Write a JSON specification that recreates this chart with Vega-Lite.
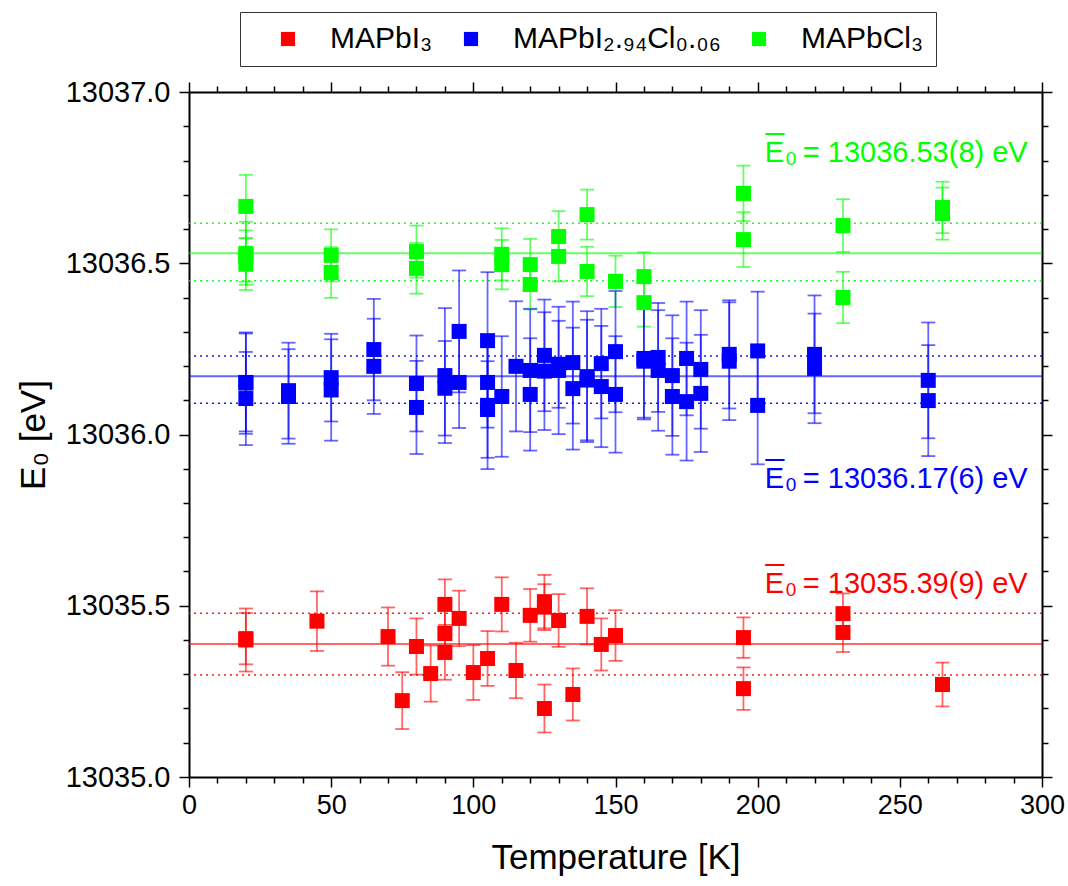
{
  "$schema": "https://vega.github.io/schema/vega-lite/v6.json",
  "width": 853,
  "height": 685,
  "autosize": {"type": "none"},
  "padding": {"left": 189, "top": 92, "right": 26, "bottom": 109},
  "background": "white",
  "config": {
    "font": "Liberation Sans",
    "view": {"stroke": null},
    "axis": {"grid": false, "domainColor": "black", "domainWidth": 2, "tickColor": "black", "tickWidth": 1.5, "labelColor": "black", "titleColor": "black", "labelFont": "Liberation Sans", "titleFont": "Liberation Sans", "titleFontWeight": "normal"}
  },
  "datasets": {
    "pts": [
      {"T": 20, "E": 13036.666, "err": 0.092, "s": "Cl"},
      {"T": 20, "E": 13036.529, "err": 0.092, "s": "Cl"},
      {"T": 20, "E": 13036.497, "err": 0.075, "s": "Cl"},
      {"T": 20, "E": 13036.521, "err": 0.075, "s": "Cl"},
      {"T": 50, "E": 13036.523, "err": 0.076, "s": "Cl"},
      {"T": 50, "E": 13036.473, "err": 0.074, "s": "Cl"},
      {"T": 80, "E": 13036.534, "err": 0.076, "s": "Cl"},
      {"T": 80, "E": 13036.485, "err": 0.074, "s": "Cl"},
      {"T": 110, "E": 13036.526, "err": 0.076, "s": "Cl"},
      {"T": 110, "E": 13036.496, "err": 0.072, "s": "Cl"},
      {"T": 120, "E": 13036.496, "err": 0.075, "s": "Cl"},
      {"T": 120, "E": 13036.438, "err": 0.073, "s": "Cl"},
      {"T": 130, "E": 13036.578, "err": 0.074, "s": "Cl"},
      {"T": 130, "E": 13036.520, "err": 0.073, "s": "Cl"},
      {"T": 140, "E": 13036.642, "err": 0.073, "s": "Cl"},
      {"T": 140, "E": 13036.476, "err": 0.072, "s": "Cl"},
      {"T": 150, "E": 13036.447, "err": 0.075, "s": "Cl"},
      {"T": 160, "E": 13036.461, "err": 0.071, "s": "Cl"},
      {"T": 160, "E": 13036.385, "err": 0.070, "s": "Cl"},
      {"T": 195, "E": 13036.704, "err": 0.081, "s": "Cl"},
      {"T": 195, "E": 13036.569, "err": 0.080, "s": "Cl"},
      {"T": 230, "E": 13036.610, "err": 0.077, "s": "Cl"},
      {"T": 230, "E": 13036.400, "err": 0.075, "s": "Cl"},
      {"T": 265, "E": 13036.663, "err": 0.075, "s": "Cl"},
      {"T": 265, "E": 13036.645, "err": 0.076, "s": "Cl"},

      {"T": 20, "E": 13036.152, "err": 0.143, "s": "Mix"},
      {"T": 20, "E": 13036.105, "err": 0.136, "s": "Mix"},
      {"T": 20, "E": 13036.150, "err": 0.148, "s": "Mix"},
      {"T": 35, "E": 13036.128, "err": 0.140, "s": "Mix"},
      {"T": 35, "E": 13036.111, "err": 0.138, "s": "Mix"},
      {"T": 50, "E": 13036.166, "err": 0.128, "s": "Mix"},
      {"T": 50, "E": 13036.130, "err": 0.148, "s": "Mix"},
      {"T": 65, "E": 13036.248, "err": 0.148, "s": "Mix"},
      {"T": 65, "E": 13036.199, "err": 0.139, "s": "Mix"},
      {"T": 80, "E": 13036.149, "err": 0.140, "s": "Mix"},
      {"T": 80, "E": 13036.079, "err": 0.136, "s": "Mix"},
      {"T": 90, "E": 13036.172, "err": 0.197, "s": "Mix"},
      {"T": 90, "E": 13036.135, "err": 0.138, "s": "Mix"},
      {"T": 95, "E": 13036.301, "err": 0.178, "s": "Mix"},
      {"T": 95, "E": 13036.152, "err": 0.133, "s": "Mix"},
      {"T": 105, "E": 13036.274, "err": 0.200, "s": "Mix"},
      {"T": 105, "E": 13036.152, "err": 0.132, "s": "Mix"},
      {"T": 105, "E": 13036.085, "err": 0.186, "s": "Mix"},
      {"T": 105, "E": 13036.073, "err": 0.141, "s": "Mix"},
      {"T": 110, "E": 13036.111, "err": 0.176, "s": "Mix"},
      {"T": 115, "E": 13036.199, "err": 0.190, "s": "Mix"},
      {"T": 120, "E": 13036.187, "err": 0.180, "s": "Mix"},
      {"T": 120, "E": 13036.117, "err": 0.164, "s": "Mix"},
      {"T": 125, "E": 13036.231, "err": 0.163, "s": "Mix"},
      {"T": 125, "E": 13036.185, "err": 0.172, "s": "Mix"},
      {"T": 130, "E": 13036.205, "err": 0.127, "s": "Mix"},
      {"T": 130, "E": 13036.187, "err": 0.186, "s": "Mix"},
      {"T": 135, "E": 13036.210, "err": 0.178, "s": "Mix"},
      {"T": 135, "E": 13036.134, "err": 0.178, "s": "Mix"},
      {"T": 140, "E": 13036.169, "err": 0.191, "s": "Mix"},
      {"T": 140, "E": 13036.159, "err": 0.176, "s": "Mix"},
      {"T": 145, "E": 13036.207, "err": 0.160, "s": "Mix"},
      {"T": 145, "E": 13036.140, "err": 0.177, "s": "Mix"},
      {"T": 150, "E": 13036.242, "err": 0.177, "s": "Mix"},
      {"T": 150, "E": 13036.117, "err": 0.170, "s": "Mix"},
      {"T": 160, "E": 13036.222, "err": 0.173, "s": "Mix"},
      {"T": 160, "E": 13036.214, "err": 0.170, "s": "Mix"},
      {"T": 165, "E": 13036.225, "err": 0.159, "s": "Mix"},
      {"T": 165, "E": 13036.187, "err": 0.176, "s": "Mix"},
      {"T": 170, "E": 13036.172, "err": 0.176, "s": "Mix"},
      {"T": 170, "E": 13036.111, "err": 0.170, "s": "Mix"},
      {"T": 175, "E": 13036.222, "err": 0.166, "s": "Mix"},
      {"T": 175, "E": 13036.096, "err": 0.172, "s": "Mix"},
      {"T": 180, "E": 13036.190, "err": 0.173, "s": "Mix"},
      {"T": 180, "E": 13036.120, "err": 0.171, "s": "Mix"},
      {"T": 190, "E": 13036.234, "err": 0.158, "s": "Mix"},
      {"T": 190, "E": 13036.214, "err": 0.172, "s": "Mix"},
      {"T": 200, "E": 13036.244, "err": 0.173, "s": "Mix"},
      {"T": 200, "E": 13036.085, "err": 0.172, "s": "Mix"},
      {"T": 220, "E": 13036.234, "err": 0.172, "s": "Mix"},
      {"T": 220, "E": 13036.193, "err": 0.160, "s": "Mix"},
      {"T": 260, "E": 13036.158, "err": 0.169, "s": "Mix"},
      {"T": 260, "E": 13036.099, "err": 0.162, "s": "Mix"},

      {"T": 20, "E": 13035.400, "err": 0.092, "s": "I"},
      {"T": 20, "E": 13035.404, "err": 0.075, "s": "I"},
      {"T": 45, "E": 13035.455, "err": 0.087, "s": "I"},
      {"T": 70, "E": 13035.410, "err": 0.085, "s": "I"},
      {"T": 75, "E": 13035.223, "err": 0.083, "s": "I"},
      {"T": 80, "E": 13035.381, "err": 0.082, "s": "I"},
      {"T": 85, "E": 13035.302, "err": 0.082, "s": "I"},
      {"T": 90, "E": 13035.504, "err": 0.073, "s": "I"},
      {"T": 90, "E": 13035.419, "err": 0.075, "s": "I"},
      {"T": 90, "E": 13035.364, "err": 0.080, "s": "I"},
      {"T": 95, "E": 13035.463, "err": 0.081, "s": "I"},
      {"T": 100, "E": 13035.305, "err": 0.080, "s": "I"},
      {"T": 105, "E": 13035.346, "err": 0.080, "s": "I"},
      {"T": 110, "E": 13035.504, "err": 0.079, "s": "I"},
      {"T": 115, "E": 13035.311, "err": 0.081, "s": "I"},
      {"T": 120, "E": 13035.472, "err": 0.077, "s": "I"},
      {"T": 125, "E": 13035.512, "err": 0.078, "s": "I"},
      {"T": 125, "E": 13035.496, "err": 0.067, "s": "I"},
      {"T": 125, "E": 13035.200, "err": 0.070, "s": "I"},
      {"T": 130, "E": 13035.457, "err": 0.077, "s": "I"},
      {"T": 135, "E": 13035.241, "err": 0.076, "s": "I"},
      {"T": 140, "E": 13035.469, "err": 0.082, "s": "I"},
      {"T": 145, "E": 13035.387, "err": 0.076, "s": "I"},
      {"T": 150, "E": 13035.413, "err": 0.074, "s": "I"},
      {"T": 195, "E": 13035.407, "err": 0.059, "s": "I"},
      {"T": 195, "E": 13035.258, "err": 0.062, "s": "I"},
      {"T": 230, "E": 13035.477, "err": 0.059, "s": "I"},
      {"T": 230, "E": 13035.422, "err": 0.057, "s": "I"},
      {"T": 265, "E": 13035.270, "err": 0.064, "s": "I"}
    ],
    "means": [
      {"E": 13036.529, "s": "Cl"},
      {"E": 13036.170, "s": "Mix"},
      {"E": 13035.388, "s": "I"}
    ],
    "bands": [
      {"E": 13036.617, "s": "Cl"},
      {"E": 13036.449, "s": "Cl"},
      {"E": 13036.229, "s": "Mix"},
      {"E": 13036.091, "s": "Mix"},
      {"E": 13035.478, "s": "I"},
      {"E": 13035.298, "s": "I"}
    ],
    "notes": [
      {"T": 202.5, "E": 13036.796, "s": "Cl", "label": "= 13036.53(8) eV"},
      {"T": 202.5, "E": 13035.844, "s": "Mix", "label": "= 13036.17(6) eV"},
      {"T": 202.5, "E": 13035.537, "s": "I", "label": "= 13035.39(9) eV"}
    ]
  },
  "resolve": {"axis": {"x": "independent", "y": "independent"}, "legend": {"color": "independent"}},
  "layer": [
    {
      "data": {"name": "means"},
      "mark": {"type": "rule", "strokeWidth": 2, "opacity": 0.6},
      "encoding": {
        "y": {"field": "E", "type": "quantitative", "scale": {"domain": [13035, 13037], "zero": false, "nice": false}, "axis": null},
        "color": {"field": "s", "type": "nominal", "scale": {"domain": ["I", "Mix", "Cl"], "range": ["#ff0000", "#0000ff", "#00ff00"]}, "legend": null}
      }
    },
    {
      "data": {"name": "bands"},
      "mark": {"type": "rule", "strokeWidth": 1.5, "strokeDash": [2, 4], "opacity": 0.9},
      "encoding": {
        "y": {"field": "E", "type": "quantitative", "axis": null},
        "color": {"field": "s", "type": "nominal", "legend": null}
      }
    },
    {
      "data": {"name": "pts"},
      "mark": {"type": "errorbar", "ticks": {"size": 14}, "thickness": 1.8, "opacity": 0.6},
      "encoding": {
        "x": {"field": "T", "type": "quantitative", "scale": {"domain": [0, 300], "nice": false}, "axis": null},
        "y": {"field": "E", "type": "quantitative", "axis": null},
        "yError": {"field": "err"},
        "color": {"field": "s", "type": "nominal", "legend": null}
      }
    },
    {
      "data": {"name": "pts"},
      "mark": {"type": "square", "size": 225, "opacity": 1, "filled": true},
      "encoding": {
        "x": {"field": "T", "type": "quantitative",
          "axis": {"orient": "bottom", "title": "Temperature [K]", "titleFontSize": 35, "titlePadding": 22,
            "values": [0, 10, 20, 30, 40, 50, 60, 70, 80, 90, 100, 110, 120, 130, 140, 150, 160, 170, 180, 190, 200, 210, 220, 230, 240, 250, 260, 270, 280, 290, 300],
            "labelExpr": "datum.value % 50 === 0 ? datum.value : ''",
            "tickSize": {"condition": {"test": "datum.value % 50 === 0", "value": 10}, "value": 6},
            "labelFontSize": 27, "labelPadding": 5, "labelFlush": false}},
        "y": {"field": "E", "type": "quantitative",
          "axis": {"orient": "left", "title": "E₀ [eV]", "titleFontSize": 35, "titlePadding": 14,
            "values": [13035, 13035.1, 13035.2, 13035.3, 13035.4, 13035.5, 13035.6, 13035.7, 13035.8, 13035.9, 13036, 13036.1, 13036.2, 13036.3, 13036.4, 13036.5, 13036.6, 13036.7, 13036.8, 13036.9, 13037],
            "labelExpr": "abs(datum.value*2 - round(datum.value*2)) < 0.001 ? format(datum.value, '.1f') : ''",
            "tickSize": {"condition": {"test": "abs(datum.value*2 - round(datum.value*2)) < 0.001", "value": 10}, "value": 6},
            "labelFontSize": 29, "labelPadding": 9, "labelFlush": false}},
        "color": {"field": "s", "type": "nominal",
          "legend": {"orient": "none", "legendX": 51, "legendY": -80, "direction": "horizontal", "title": null,
            "strokeColor": "#333", "padding": 12, "symbolType": "square", "symbolSize": 200, "symbolStrokeWidth": 0,
            "labelFontSize": 30, "labelFont": "Liberation Sans", "labelColor": "black", "symbolOffset": 21, "labelOffset": 27, "columnPadding": 2, "labelLimit": 400,
            "labelExpr": "datum.value == 'I' ? 'MAPbI₃' : datum.value == 'Mix' ? 'MAPbI₂.₉₄Cl₀.₀₆' : 'MAPbCl₃'"}}
      }
    },
    {
      "data": {"name": "notes"},
      "mark": {"type": "text", "align": "left", "baseline": "alphabetic", "fontSize": 29, "font": "Liberation Sans", "text": "E"},
      "encoding": {
        "x": {"field": "T", "type": "quantitative",
          "axis": {"orient": "top", "title": null, "labels": false,
            "values": [0, 10, 20, 30, 40, 50, 60, 70, 80, 90, 100, 110, 120, 130, 140, 150, 160, 170, 180, 190, 200, 210, 220, 230, 240, 250, 260, 270, 280, 290, 300],
            "tickSize": {"condition": {"test": "datum.value % 50 === 0", "value": 10}, "value": 6}}},
        "y": {"field": "E", "type": "quantitative",
          "axis": {"orient": "right", "title": null, "labels": false,
            "values": [13035, 13035.1, 13035.2, 13035.3, 13035.4, 13035.5, 13035.6, 13035.7, 13035.8, 13035.9, 13036, 13036.1, 13036.2, 13036.3, 13036.4, 13036.5, 13036.6, 13036.7, 13036.8, 13036.9, 13037],
            "tickSize": {"condition": {"test": "abs(datum.value*2 - round(datum.value*2)) < 0.001", "value": 10}, "value": 6}}},
        "color": {"field": "s", "type": "nominal", "legend": null}
      }
    },
    {
      "data": {"name": "notes"},
      "mark": {"type": "text", "align": "left", "baseline": "alphabetic", "fontSize": 33, "font": "Liberation Sans", "text": "_", "dx": 1, "dy": -34},
      "encoding": {
        "x": {"field": "T", "type": "quantitative", "axis": null},
        "y": {"field": "E", "type": "quantitative", "axis": null},
        "color": {"field": "s", "type": "nominal", "legend": null}
      }
    },
    {
      "data": {"name": "notes"},
      "mark": {"type": "text", "align": "left", "baseline": "alphabetic", "fontSize": 19, "font": "Liberation Sans", "text": "0", "dx": 21, "dy": 3},
      "encoding": {
        "x": {"field": "T", "type": "quantitative", "axis": null},
        "y": {"field": "E", "type": "quantitative", "axis": null},
        "color": {"field": "s", "type": "nominal", "legend": null}
      }
    },
    {
      "data": {"name": "notes"},
      "mark": {"type": "text", "align": "left", "baseline": "alphabetic", "fontSize": 29, "font": "Liberation Sans", "dx": 38},
      "encoding": {
        "x": {"field": "T", "type": "quantitative", "axis": null},
        "y": {"field": "E", "type": "quantitative", "axis": null},
        "text": {"field": "label"},
        "color": {"field": "s", "type": "nominal", "legend": null}
      }
    }
  ]
}
